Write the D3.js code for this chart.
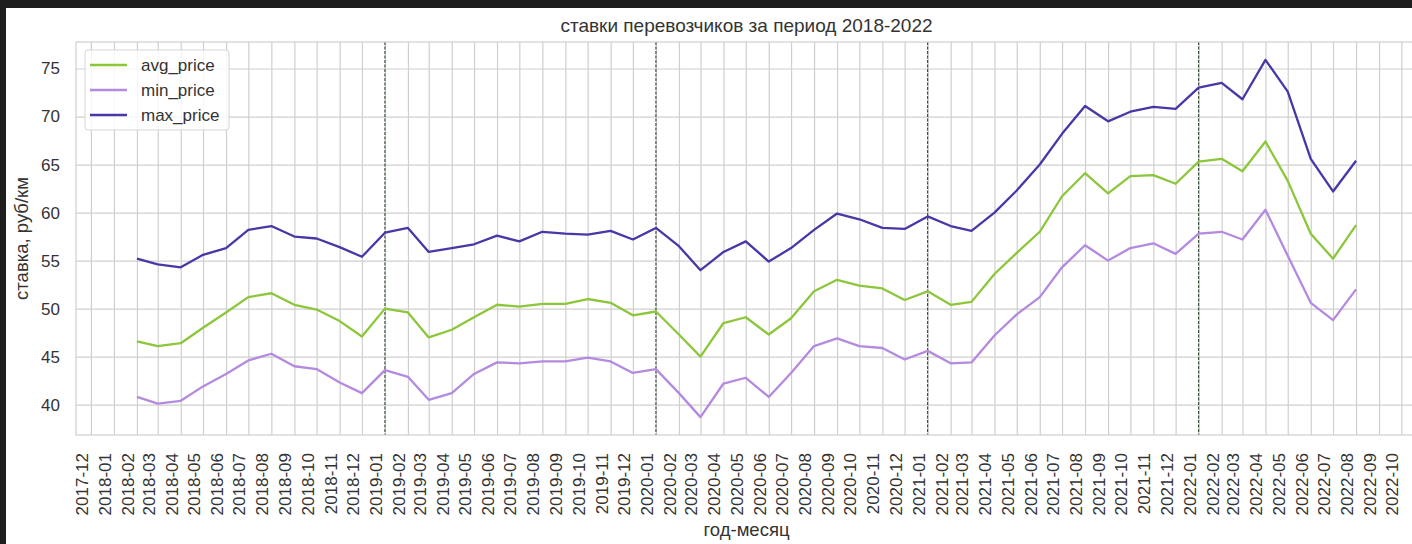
<!DOCTYPE html>
<html>
<head>
<meta charset="utf-8">
<script src="https://cdn.jsdelivr.net/npm/d3@7"></script>
<style>
    body { margin: 0; background: #fff; }
    text { font-family: "Liberation Sans", Arial, sans-serif; }
</style>
</head>
<body>
<div id="chart"></div>
<script>

// months of the series
var months = [
    "2018-02","2018-03","2018-04","2018-05","2018-06","2018-07","2018-08","2018-09","2018-10","2018-11","2018-12",
    "2019-01","2019-02","2019-03","2019-04","2019-05","2019-06","2019-07","2019-08","2019-09","2019-10","2019-11","2019-12",
    "2020-01","2020-02","2020-03","2020-04","2020-05","2020-06","2020-07","2020-08","2020-09","2020-10","2020-11","2020-12",
    "2021-01","2021-02","2021-03","2021-04","2021-05","2021-06","2021-07","2021-08","2021-09","2021-10","2021-11","2021-12",
    "2022-01","2022-02","2022-03","2022-04","2022-05","2022-06","2022-07","2022-08"
];

var avg_price = [
    46.6, 46.1, 46.4, 48.0, 49.6, 51.2, 51.6, 50.4, 49.9, 48.7,
    47.1, 50.0, 49.6, 47.0, 47.8, 49.1, 50.4, 50.2, 50.5, 50.5,
    51.0, 50.6, 49.3, 49.7, 47.3, 45.0, 48.5, 49.1, 47.3, 49.0,
    51.8, 53.0, 52.4, 52.1, 50.9, 51.8, 50.4, 50.7, 53.6, 55.8,
    58.0, 61.7, 64.1, 62.0, 63.8, 63.9, 63.0, 65.3, 65.6, 64.3,
    67.4, 63.3, 57.8, 55.2, 58.7
];

var min_price = [
    40.8, 40.1, 40.4, 41.9, 43.2, 44.6, 45.3, 44.0, 43.7, 42.3,
    41.2, 43.6, 42.9, 40.5, 41.2, 43.2, 44.4, 44.3, 44.5, 44.5,
    44.9, 44.5, 43.3, 43.7, 41.2, 38.7, 42.2, 42.8, 40.8, 43.3,
    46.1, 46.9, 46.1, 45.9, 44.7, 45.6, 44.3, 44.4, 47.2, 49.4,
    51.2, 54.3, 56.6, 55.0, 56.3, 56.8, 55.7, 57.8, 58.0, 57.2,
    60.3, 55.5, 50.6, 48.8, 52.0
];

var max_price = [
    55.2, 54.6, 54.3, 55.6, 56.3, 58.2, 58.6, 57.5, 57.3, 56.4,
    55.4, 57.9, 58.4, 55.9, 56.3, 56.7, 57.6, 57.0, 58.0, 57.8,
    57.7, 58.1, 57.2, 58.4, 56.5, 54.0, 55.9, 57.0, 54.9, 56.3,
    58.2, 59.9, 59.3, 58.4, 58.3, 59.6, 58.6, 58.1, 60.0, 62.3,
    65.0, 68.2, 71.1, 69.5, 70.5, 71.0, 70.8, 73.0, 73.5, 71.8,
    75.9, 72.6, 65.6, 62.2, 65.4
];

// dashed markers at year starts
var yearMarks = ["2019-01", "2020-01", "2021-01", "2022-01"];

var yTicks = [40, 45, 50, 55, 60, 65, 70, 75];

var seriesNames = ["avg_price", "min_price", "max_price"];
var seriesColors = ["#8cc63a", "#b48ae0", "#4a36a6"];

var W = 1412, H = 544;
var plotL = 76, plotR = 1417, plotT = 42, plotB = 435;

var parseMonth = d3.utcParse("%Y-%m");
var dates = months.map(parseMonth);

var series = [avg_price, min_price, max_price].map(function(vals, k){
    return {
        name: seriesNames[k],
        color: seriesColors[k],
        points: vals.map(function(v, i){ return {date: dates[i], value: v}; })
    };
});

// matplotlib-like 5% margins
var t0 = dates[0].getTime(), t1 = dates[dates.length - 1].getTime();
var tPad = (t1 - t0) * 0.05;
var x = d3.scaleUtc()
    .domain([new Date(t0 - tPad), new Date(t1 + tPad)])
    .range([plotL, plotR]);

var allVals = avg_price.concat(min_price, max_price);
var vMin = d3.min(allVals), vMax = d3.max(allVals);
var vPad = (vMax - vMin) * 0.05;
var y = d3.scaleLinear()
    .domain([vMin - vPad, vMax + vPad])
    .range([plotB, plotT]);

var svg = d3.select("#chart")
    .append("svg")
    .attr("width", W)
    .attr("height", H);

svg.append("rect").attr("width", W).attr("height", H).attr("fill", "#fff");

// grid
var xAxis = d3.axisBottom(x)
    .ticks(d3.utcMonth.every(1))
    .tickFormat(d3.utcFormat("%Y-%m"))
    .tickSize(-(plotB - plotT))
    .tickPadding(0);

var gx = svg.append("g")
    .attr("transform", "translate(0," + plotB + ")")
    .call(xAxis);
gx.select(".domain").remove();
gx.selectAll(".tick line")
    .attr("stroke", "#cfcfcf")
    .attr("stroke-width", 1.2);
gx.selectAll(".tick text")
    .attr("fill", "#333")
    .style("font-size", "17px")
    .attr("text-anchor", "end")
    .attr("dy", null)
    .attr("y", null)
    .attr("transform", "translate(-3.5,18) rotate(-90)");

var yAxis = d3.axisLeft(y)
    .tickValues(yTicks)
    .tickSize(-(plotR - plotL))
    .tickPadding(16);

var gy = svg.append("g")
    .attr("transform", "translate(" + plotL + ",0)")
    .call(yAxis);
gy.select(".domain").remove();
gy.selectAll(".tick line")
    .attr("stroke", "#cfcfcf")
    .attr("stroke-width", 1.2);
gy.selectAll(".tick text")
    .attr("fill", "#333")
    .style("font-size", "17px");

// year dividers
svg.append("g")
    .selectAll("line")
    .data(yearMarks)
    .enter()
    .append("line")
    .attr("x1", function(d){ return x(parseMonth(d)); })
    .attr("x2", function(d){ return x(parseMonth(d)); })
    .attr("y1", plotT)
    .attr("y2", plotB)
    .attr("stroke", "#223a22")
    .attr("stroke-width", 1)
    .attr("stroke-dasharray", "3,1.5");

// spines
svg.append("rect")
    .attr("x", plotL)
    .attr("y", plotT)
    .attr("width", plotR - plotL)
    .attr("height", plotB - plotT)
    .attr("fill", "none")
    .attr("stroke", "#cfcfcf")
    .attr("stroke-width", 1.2);

// lines
var line = d3.line()
    .x(function(d){ return x(d.date); })
    .y(function(d){ return y(d.value); });

svg.append("g")
    .selectAll("path")
    .data(series)
    .enter()
    .append("path")
    .attr("d", function(d){ return line(d.points); })
    .attr("fill", "none")
    .attr("stroke", function(d){ return d.color; })
    .attr("stroke-width", 2.3)
    .attr("stroke-linejoin", "round");

// legend
var legend = svg.append("g").attr("transform", "translate(85,50)");
legend.append("rect")
    .attr("width", 144)
    .attr("height", 80)
    .attr("rx", 3)
    .attr("fill", "#fff")
    .attr("fill-opacity", 0.8)
    .attr("stroke", "#d5d5d5");
var item = legend.selectAll(".item")
    .data(series)
    .enter()
    .append("g")
    .attr("class", "item")
    .attr("transform", function(d, i){ return "translate(0," + (15 + i * 25) + ")"; });
item.append("line")
    .attr("x1", 5).attr("x2", 42)
    .attr("stroke", function(d){ return d.color; })
    .attr("stroke-width", 2.3);
item.append("text")
    .attr("x", 56)
    .attr("dy", "0.35em")
    .attr("fill", "#333")
    .style("font-size", "17px")
    .text(function(d){ return d.name; });

// titles
svg.append("text")
    .attr("x", (plotL + plotR) / 2)
    .attr("y", 32)
    .attr("text-anchor", "middle")
    .attr("fill", "#333")
    .style("font-size", "19px")
    .text("ставки перевозчиков за период 2018-2022");

svg.append("text")
    .attr("x", (plotL + plotR) / 2)
    .attr("y", 536)
    .attr("text-anchor", "middle")
    .attr("fill", "#333")
    .style("font-size", "18.5px")
    .text("год-месяц");

svg.append("text")
    .attr("transform", "translate(28," + ((plotT + plotB) / 2) + ") rotate(-90)")
    .attr("text-anchor", "middle")
    .attr("fill", "#333")
    .style("font-size", "18.5px")
    .text("ставка, руб/км");

// dark screenshot border
svg.append("rect").attr("x", 0).attr("y", 0).attr("width", W).attr("height", 8).attr("fill", "#1e1e1e");
svg.append("rect").attr("x", 0).attr("y", 0).attr("width", 6).attr("height", H).attr("fill", "#1e1e1e");

</script>
</body>
</html>
